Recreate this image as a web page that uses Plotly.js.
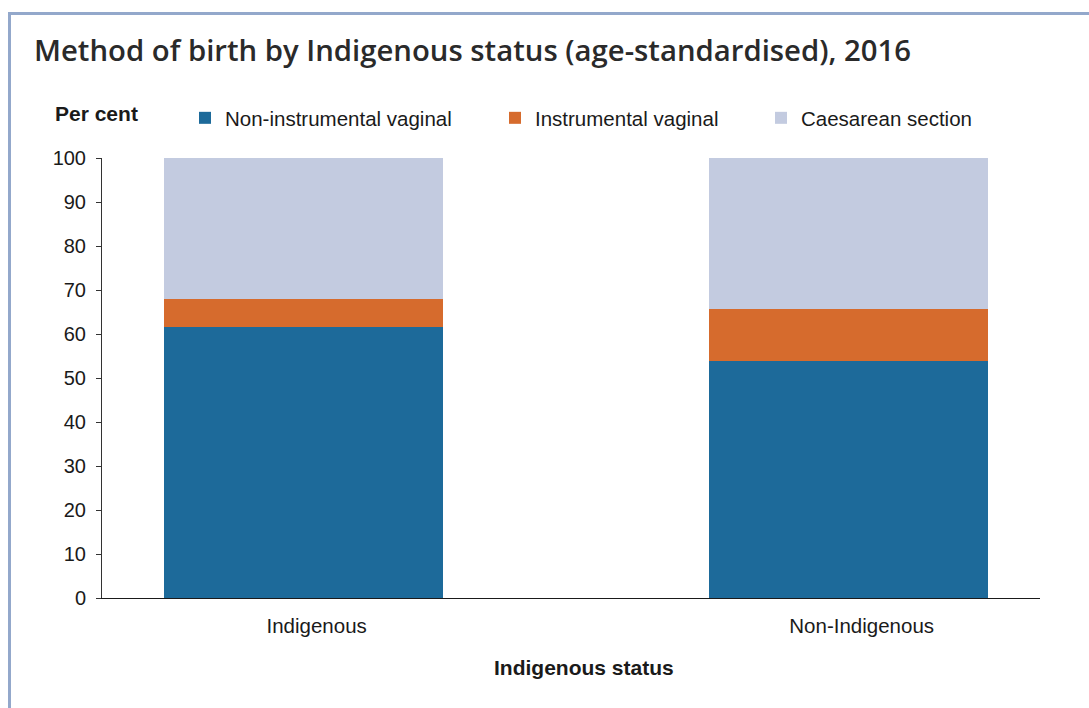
<!DOCTYPE html>
<html>
<head>
<meta charset="utf-8">
<script src="https://cdn.plot.ly/plotly-3.0.1.min.js"></script>
<style>
  html, body { margin: 0; padding: 0; background: #ffffff; }
  #chart { width: 1089px; height: 708px; }
</style>
</head>
<body>
<div id="chart"></div>
<script>
const categories = ["Indigenous", "Non-Indigenous"];
const seriesNames = ["Non-instrumental vaginal", "Instrumental vaginal", "Caesarean section"];
const nonInstrumental = [61.6, 53.9];
const instrumental = [6.4, 11.8];
const caesarean = [32.0, 34.3];
const yTicks = [0, 10, 20, 30, 40, 50, 60, 70, 80, 90, 100];

const colors = ["#1d6a9a", "#d66b2d", "#c3cbe0"];
const seriesValues = [nonInstrumental, instrumental, caesarean];
const legendIds = ["legend", "legend2", "legend3"];

const traces = seriesValues.map((vals, i) => ({
  type: "bar",
  name: seriesNames[i],
  x: categories,
  y: vals,
  marker: { color: colors[i], line: { width: 0 } },
  legend: legendIds[i],
  hoverinfo: "x+y+name"
}));

const L = 102, R = 1040, T = 158, B = 598;
const W = R - L, H = B - T;
const px = v => (v - L) / W;
const py = v => (B - v) / H;

const legendFont = { family: "Liberation Sans, Arial, sans-serif", size: 20.5, color: "#1a1a1a" };
function legendAt(textX) {
  return {
    orientation: "h", x: px(textX - 40), xanchor: "left", y: py(118), yanchor: "middle",
    xref: "paper", yref: "paper", font: legendFont, bgcolor: "rgba(0,0,0,0)", borderwidth: 0,
    traceorder: "normal"
  };
}

const layout = {
  width: 1089, height: 708,
  margin: { l: L, r: 1089 - R, t: T, b: 708 - B, pad: 0 },
  paper_bgcolor: "#ffffff", plot_bgcolor: "#ffffff",
  font: { family: "Liberation Sans, Arial, sans-serif", size: 20, color: "#1a1a1a" },
  title: {
    text: "Method of birth by Indigenous status (age-standardised), 2016",
    font: { family: "Open Sans, sans-serif", size: 29.3, weight: 600, color: "#2a2a2a" },
    xref: "container", yref: "container", x: 34 / 1089, xanchor: "left",
    y: 1 - 51 / 708, yanchor: "middle"
  },
  barmode: "stack",
  bargap: 0.488,
  showlegend: true,
  legend: legendAt(225),
  legend2: legendAt(535),
  legend3: legendAt(801),
  xaxis: {
    type: "category",
    range: [-0.37, 1.351],
    showline: true, linecolor: "#1a1a1a", linewidth: 1,
    ticks: "", showgrid: false, zeroline: false,
    ticklabelstandoff: 9,
    ticklabelshift: 13,
    tickfont: { size: 20.5, color: "#1a1a1a" }
  },
  yaxis: {
    range: [0, 100],
    tickvals: yTicks,
    ticktext: yTicks.map(String),
    showline: true, linecolor: "#333333", linewidth: 1,
    ticks: "outside", ticklen: 5, tickcolor: "#333333", tickwidth: 1,
    showgrid: false, zeroline: false,
    ticklabelstandoff: 6,
    tickfont: { size: 20, color: "#1a1a1a" }
  },
  annotations: [{
    text: "<b>Per cent</b>", xref: "paper", yref: "paper",
    x: px(53), xanchor: "left", y: py(114), yanchor: "middle",
    showarrow: false, font: { size: 21, color: "#1a1a1a" }
  }, {
    text: "<b>Indigenous status</b>", xref: "paper", yref: "paper",
    x: px(584), xanchor: "center", y: py(667), yanchor: "middle",
    showarrow: false, font: { size: 21, color: "#1a1a1a" }
  }],
  shapes: [{
    type: "path", xref: "paper", yref: "paper",
    path: `M ${px(9.5)} ${py(730)} L ${px(9.5)} ${py(13.5)} L ${px(1100)} ${py(13.5)}`,
    line: { color: "#93a8cb", width: 3 }, layer: "above"
  }]
};

Plotly.newPlot("chart", traces, layout, { displayModeBar: false, responsive: false });
</script>
</body>
</html>
